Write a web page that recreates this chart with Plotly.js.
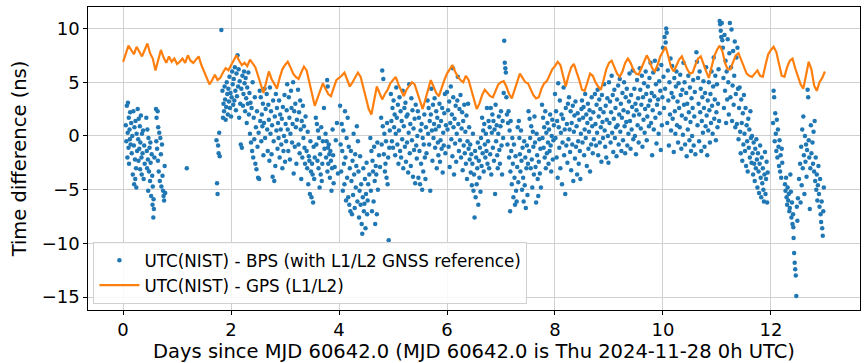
<!DOCTYPE html>
<html><head><meta charset="utf-8">
<script src="https://cdn.plot.ly/plotly-3.0.1.min.js"></script>
<style>html,body{margin:0;padding:0;background:#fff}#chart{width:865px;height:363px}</style>
</head><body><div id="chart"></div>
<script>
const seriesNames = ["UTC(NIST) - BPS (with L1/L2 GNSS reference)", "UTC(NIST) - GPS (L1/L2)"];
const xTitle = "Days since MJD 60642.0 (MJD 60642.0 is Thu 2024-11-28 0h UTC)";
const yTitle = "Time difference (ns)";
const xTicks = [0, 2, 4, 6, 8, 10, 12];
const yTicks = [-15, -10, -5, 0, 5, 10];
const yTickText = ["\u221215", "\u221210", "\u22125", "0", "5", "10"];

// BPS points [day, ns]
const bpsSeg0 = [[0.05,1.0],[0.06,-0.5],[0.07,2.8],[0.08,-2.0],[0.085,0.3],[0.09,3.1],[0.10,-1.1],[0.105,1.7],[0.11,-2.6],[0.12,0.6],[0.125,-0.3],[0.13,2.2],[0.14,-0.8],[0.15,1.2],[0.16,-1.6],[0.17,0.0],
[0.18,-3.6],[0.19,2.3],[0.20,-0.9],[0.205,-4.5],[0.21,0.8],[0.22,-2.2],[0.225,-4.0],[0.23,1.4],[0.24,-3.0],[0.245,-4.8],[0.25,0.2],[0.26,-1.4],
[0.27,2.5],[0.28,-0.3],[0.285,-2.3],[0.29,1.6],[0.30,-1.2],[0.31,0.9],[0.315,-3.1],[0.32,-0.6],[0.33,1.9],[0.34,-2.0],[0.345,-3.6],[0.35,0.2],[0.36,-1.6],[0.37,0.5],[0.38,-4.0],[0.39,-0.9],[0.40,-2.6],
[0.43,1.7],[0.44,-1.4],[0.445,-3.0],[0.45,0.6],[0.46,-2.2],[0.465,-5.1],[0.47,-0.2],[0.48,-3.3],[0.49,-1.1],[0.50,-4.2],[0.505,-0.6],[0.51,-2.5],[0.52,-5.6],[0.53,-1.7],[0.54,-3.7],[0.545,-6.4],[0.55,-4.7],[0.56,-7.6],[0.565,-5.9],[0.57,-6.8],[0.58,-2.0],
[0.61,2.5],[0.615,-0.5],[0.62,1.7],[0.63,-1.2],[0.64,2.3],[0.645,-2.3],[0.65,0.8],[0.66,-3.3],[0.67,0.3],[0.68,-4.2],[0.69,-0.2],[0.70,-1.7],[0.71,-4.7],[0.72,-0.8],[0.73,-3.7],[0.74,-5.1],[0.75,-5.6],[0.76,-6.0],[0.77,-2.8],[0.78,-5.3],
[1.18,-3.0],[1.73,-0.4],[1.74,-4.4],[1.75,-5.4],[1.76,-0.9],[1.77,-1.6],[1.78,0.3],[1.79,-1.9],[1.82,9.85]];

const bpsSeg1 = [[1.84,4.2],[1.85,1.7],[1.86,3.0],[1.87,2.3],[1.88,4.6],[1.89,3.4],[1.90,1.5],[1.91,2.7],[1.92,5.0],[1.93,3.9],[1.94,2.0],[1.95,4.4],[1.96,3.2],[1.97,5.5],[1.98,2.6],[1.99,4.0],[2.00,1.8],[2.01,3.6],[2.02,6.0],[2.03,4.8],[2.04,2.9],[2.05,5.3],[2.06,3.3],[2.07,6.4],[2.08,4.2],[2.09,2.4],[2.10,5.8],[2.11,3.7],[2.12,7.5],[2.13,4.6],[2.14,6.2],[2.15,1.7],[2.16,5.1],[2.17,3.0],[2.18,-0.8],[2.19,4.4],[2.20,-1.1],[2.21,5.6],[2.22,2.8],[2.23,3.9],[2.24,6.0],[2.25,4.9],[2.26,2.3],[2.27,5.4],[2.28,3.5],[2.29,1.2],[2.30,4.5],[2.31,3.0],[2.32,5.9],[2.33,2.0],[2.34,4.0],[2.35,0.2],[2.36,3.1],[2.37,-0.6],[2.38,2.6],[2.39,-1.4],[2.40,5.0],[2.41,-2.0],[2.42,1.7],[2.43,-0.3],[2.44,3.6],[2.45,-2.6],[2.46,0.8],[2.47,-3.1],[2.48,2.3],[2.49,-1.0],[2.50,-3.9],[2.51,0.3],[2.52,-4.0],[2.53,4.2],[2.54,1.4],[2.55,3.6],[2.56,-0.5],[2.57,2.0],[2.58,0.9],[2.59,3.0],[2.60,-1.8],[2.61,1.2],[2.62,4.4],[2.63,-0.2],[2.64,2.5]];

const bpsSeg2 = [[2.66,3.9],[2.67,0.6],[2.68,-1.4],[2.69,2.9],[2.70,1.5],[2.71,-2.3],[2.72,4.5],[2.73,0.2],[2.74,2.3],[2.75,-1.7],[2.76,1.0],[2.77,-3.8],[2.78,3.3],[2.79,-0.5],[2.80,-4.2],[2.81,1.8],[2.82,-2.8],[2.83,3.9],[2.84,0.5],[2.85,2.6],[2.86,-1.2],[2.87,1.2],[2.88,-0.2],[2.89,3.3],[2.90,-2.0],[2.91,2.0],[2.92,0.6],[2.93,-0.8],[2.94,1.6],[2.95,-3.0],[2.96,2.7],[2.97,-1.4],[2.98,0.0],[2.99,3.8],[3.00,-2.4],[3.01,1.1],[3.02,-0.5],[3.03,2.4],[3.04,4.8],[3.05,0.6],[3.06,-1.4],[3.07,3.6],[3.08,1.7],[3.09,-2.2],[3.10,0.2],[3.11,4.2],[3.12,2.6],[3.13,-0.6],[3.14,1.1],[3.15,5.0],[3.16,-3.5],[3.17,2.3],[3.18,-1.0],[3.19,3.0],[3.20,0.8],[3.21,-2.6],[3.22,1.5],[3.24,4.3],[3.25,-0.8],[3.26,2.2],[3.27,-1.6],[3.28,3.3],[3.29,0.6],[3.30,-4.0],[3.31,1.4],[3.32,-2.0],[3.33,2.8],[3.34,-0.2],[3.35,0.9],[3.36,-1.1],[3.37,-2.6],[3.38,1.8]];

const bpsSeg3 = [[3.40,-1.4],[3.41,-3.0],[3.42,0.4],[3.43,-4.5],[3.44,-1.9],[3.45,-2.3],[3.46,-5.4],[3.47,-0.5],[3.48,-3.3],[3.49,-5.7],[3.50,-2.6],[3.51,-3.6],[3.52,-6.2],[3.53,-1.0],[3.54,-4.0],[3.55,-2.0],[3.57,1.7],[3.58,-0.8],[3.59,1.1],[3.60,-2.3],[3.61,0.5],[3.62,-3.0],[3.63,-0.2],[3.64,-4.8],[3.65,-1.7],[3.66,-3.6],[3.67,0.8],[3.68,-4.2],[3.69,-2.6],[3.70,-0.5],[3.72,2.6],[3.73,-1.2],[3.75,0.2],[3.76,-2.0],[3.77,-0.5],[3.78,5.2],[3.785,-3.3],[3.79,4.6],[3.795,-1.1],[3.80,-2.6],[3.81,-0.8],[3.82,-1.7],[3.83,-3.9],[3.84,-1.4],[3.85,-2.3],[3.86,-5.1],[3.87,-3.0],[3.88,0.6],[3.89,-1.8],[3.90,-4.4],[3.92,-2.9],[3.94,-0.4],[3.96,1.2],[3.98,-3.5]];

const bpsSeg4 = [[4.02,2.8],[4.03,-0.8],[4.04,-3.3],[4.05,1.1],[4.06,-1.4],[4.07,-5.1],[4.08,0.5],[4.09,-2.6],[4.10,-4.5],[4.11,2.3],[4.12,-2.0],[4.13,-6.0],[4.14,-0.2],[4.15,-3.9],[4.16,1.7],[4.17,-5.7],[4.18,-1.0],[4.19,-6.4],[4.20,-3.0],[4.21,-7.0],[4.22,-1.4],[4.23,-4.2],[4.24,-7.3],[4.25,-2.3],[4.26,-5.5],[4.27,0.2],[4.28,-3.6],[4.29,-6.7],[4.30,-1.7],[4.31,-4.8],[4.32,-2.8],[4.33,0.9],[4.34,-6.1],[4.35,-0.5],[4.36,-3.3],[4.37,-7.6],[4.38,-5.1],[4.39,-1.9],[4.40,-6.4],[4.41,-4.5],[4.42,-8.2],[4.43,-9.1],[4.44,-5.7],[4.45,-3.0],[4.46,-7.0],[4.47,-6.3],[4.48,-4.0],[4.49,-8.6],[4.50,-5.4],[4.51,-2.5],[4.52,-7.3],[4.53,-6.0],[4.54,-4.5],[4.56,-3.6],[4.58,-0.2],[4.59,-5.1],[4.60,-1.4],[4.61,-7.0],[4.62,-2.3],[4.63,-3.3],[4.64,-6.1],[4.65,-1.0],[4.66,-4.2],[4.67,-8.2],[4.68,-2.8],[4.69,-3.6],[4.70,-7.3],[4.71,-0.6],[4.72,-5.0],[4.74,-1.8],[4.76,-2.9],[4.78,1.7],[4.79,-0.8],[4.80,6.1],[4.81,0.9],[4.82,5.3],[4.83,-1.7],[4.84,0.2],[4.85,-3.3],[4.86,-2.6],[4.87,-0.5],[4.88,-3.9],[4.89,1.2],[4.90,-4.5],[4.91,-2.0],[4.92,-9.7],[4.93,-1.1],[4.94,0.5]];

const bpsSeg5 = [[4.96,3.9],[4.97,1.4],[4.98,-0.5],[4.99,2.6],[5.00,-1.1],[5.01,3.3],[5.02,0.8],[5.03,2.0],[5.04,-1.8],[5.05,0.2],[5.06,4.5],[5.07,1.7],[5.08,-0.8],[5.09,2.9],[5.10,-2.6],[5.11,0.5],[5.12,3.6],[5.13,-1.4],[5.14,2.3],[5.15,-2.0],[5.16,1.4],[5.17,-0.3],[5.18,4.2],[5.19,-3.0],[5.20,0.9],[5.21,2.6],[5.22,-1.0],[5.23,3.1],[5.24,-2.4],[5.25,1.8],[5.26,-0.6],[5.27,2.0],[5.28,-3.4],[5.29,0.3],[5.30,4.8],[5.31,-1.6],[5.32,1.1],[5.33,-2.8],[5.34,3.5],[5.35,-0.4],[5.36,2.4],[5.37,-3.8],[5.38,0.7],[5.39,-1.3],[5.40,1.6],[5.41,-4.4],[5.42,2.9],[5.43,-0.9],[5.44,-2.1],[5.45,0.0],[5.46,2.3],[5.47,-3.9],[5.48,1.7],[5.49,-1.4],[5.50,-4.5],[5.51,0.5],[5.52,-2.6],[5.53,1.1],[5.54,-5.0],[5.55,-0.2],[5.56,-3.3],[5.57,-0.8],[5.58,2.0],[5.59,-2.0],[5.60,-4.0],[5.61,0.8],[5.62,-1.6],[5.64,3.3],[5.65,0.2],[5.66,2.6],[5.67,-0.8],[5.68,1.4],[5.69,-5.1],[5.70,2.0],[5.71,4.4],[5.72,0.5],[5.73,-2.3],[5.74,2.9],[5.75,-0.2],[5.76,1.1],[5.77,3.5],[5.78,-1.1],[5.79,0.6],[5.80,2.3],[5.81,-3.0],[5.82,1.7],[5.83,-0.6],[5.84,-1.8],[5.85,0.9],[5.86,3.0],[5.87,-2.4],[5.88,-0.4],[5.89,1.4],[5.90,-1.2],[5.91,2.6],[5.92,-3.4],[5.93,0.3],[5.94,-0.9],[5.95,2.1],[5.96,3.9],[5.97,-1.6],[5.98,1.0]];

const bpsSeg6 = [[6.00,4.1],[6.01,0.6],[6.02,2.4],[6.03,-1.0],[6.04,3.2],[6.05,-2.9],[6.06,1.2],[6.07,4.6],[6.08,-0.3],[6.09,2.0],[6.10,-1.9],[6.11,6.3],[6.115,3.6],[6.12,0.8],[6.13,-3.6],[6.14,1.6],[6.15,-0.7],[6.16,2.8],[6.17,-2.4],[6.18,0.2],[6.19,3.3],[6.20,5.5],[6.21,1.1],[6.22,-1.4],[6.23,2.5],[6.24,-0.4],[6.25,3.8],[6.26,-2.0],[6.27,0.7],[6.28,2.2],[6.29,-3.2],[6.30,1.4],[6.31,-0.9],[6.32,2.9],[6.33,-1.6],[6.34,0.4],[6.35,-2.6],[6.36,1.9],[6.37,-4.0],[6.38,-0.5],[6.39,3.0],[6.40,-1.2],[6.41,0.8],[6.42,-2.2],[6.43,-0.8],[6.44,-3.4],[6.45,-1.7],[6.46,-4.6],[6.47,-2.6],[6.48,0.2],[6.49,-5.1],[6.50,-3.6],[6.51,-7.6],[6.52,-1.4],[6.53,-5.7],[6.54,-2.0],[6.55,-4.5],[6.56,-3.0],[6.57,-0.6],[6.58,-6.4],[6.59,-2.3],[6.60,-3.9],[6.61,-1.1],[6.62,-5.2],[6.63,-0.2],[6.64,-2.8],[6.65,1.7],[6.66,-1.6],[6.67,0.5],[6.68,-3.3],[6.69,1.1],[6.70,-0.8],[6.71,-2.0],[6.72,0.2],[6.73,-1.4],[6.74,2.6],[6.75,-2.6],[6.76,-0.5],[6.77,1.4],[6.78,-3.0],[6.79,0.8],[6.80,-1.7]];

const bpsSeg7 = [[6.81,2.6],[6.82,-3.6],[6.83,0.3],[6.84,2.0],[6.85,-1.1],[6.86,1.4],[6.87,-2.3],[6.88,0.6],[6.89,-5.4],[6.90,2.9],[6.91,-0.5],[6.92,1.0],[6.93,-1.8],[6.94,-3.0],[6.95,0.2],[6.96,1.8],[6.97,-1.3],[6.98,-2.6],[6.99,0.9],[7.00,2.3],[7.01,-0.9],[7.02,-3.6],[7.03,1.4],[7.04,-0.2],[7.05,4.0],[7.06,8.85],[7.07,6.8],[7.08,6.3],[7.09,5.9],[7.10,3.6],[7.11,2.0],[7.12,-0.8],[7.13,1.2],[7.14,2.3],[7.15,-2.0],[7.16,0.5],[7.17,-7.0],[7.175,-3.3],[7.18,1.4],[7.19,-1.4],[7.20,-4.5],[7.21,-0.2],[7.22,-2.6],[7.23,-5.7],[7.24,-0.8],[7.25,-3.9],[7.26,-6.4],[7.27,-1.9],[7.28,-5.1],[7.29,-6.1],[7.30,-2.9],[7.31,0.8],[7.32,-4.3],[7.33,1.4],[7.34,-0.2],[7.35,-1.7],[7.36,-3.3],[7.37,0.5],[7.38,-2.3],[7.39,-5.0],[7.40,-1.1],[7.41,-3.9],[7.42,-6.1],[7.43,-0.5],[7.44,-4.6],[7.45,-2.0],[7.46,-6.7],[7.47,-3.0],[7.48,-0.9],[7.49,-5.5],[7.50,-2.6],[7.51,2.3],[7.52,-1.4],[7.53,1.6],[7.54,-0.2],[7.55,-3.0],[7.56,0.9],[7.57,-2.2],[7.58,-4.8],[7.59,0.4],[7.60,-1.0],[7.61,-3.6],[7.62,1.8],[7.63,-0.6],[7.64,-2.9],[7.65,-6.2],[7.66,0.2],[7.67,-1.8],[7.68,-4.0],[7.69,-5.6],[7.70,-2.4],[7.71,-0.3],[7.72,-3.5],[7.73,-1.2],[7.74,-4.8],[7.76,2.9],[7.77,-0.2],[7.78,1.7],[7.79,-1.1],[7.80,0.8],[7.81,-2.0],[7.82,2.3],[7.83,-3.0],[7.84,0.3],[7.85,-1.6],[7.86,1.2],[7.87,-0.6],[7.88,-2.6],[7.89,0.6],[7.90,-1.4],[7.91,2.0],[7.92,-0.9],[7.93,-3.3],[7.94,0.0],[7.95,1.5],[7.96,-2.2],[7.97,-0.4],[7.98,1.0]];

const bpsSeg8 = [[8.00,3.9],[8.01,-0.2],[8.02,2.3],[8.03,-2.0],[8.04,1.4],[8.05,-3.9],[8.06,4.9],[8.07,0.8],[8.08,-1.1],[8.09,3.3],[8.10,-3.0],[8.11,0.3],[8.12,2.0],[8.13,-4.5],[8.14,-0.6],[8.15,1.6],[8.16,4.5],[8.17,-1.8],[8.18,0.6],[8.19,-5.4],[8.20,2.6],[8.21,-0.9],[8.22,1.1],[8.23,-2.5],[8.24,3.0],[8.25,-0.3],[8.26,3.6],[8.27,0.6],[8.28,-1.5],[8.29,2.3],[8.30,-3.2],[8.31,1.2],[8.32,-0.8],[8.33,2.8],[8.34,-4.2],[8.35,0.4],[8.36,1.9],[8.37,-2.1],[8.38,3.2],[8.39,-1.0],[8.40,0.9],[8.41,-3.6],[8.42,2.1],[8.43,-0.5],[8.44,-2.6],[8.45,1.5],[8.46,-1.4],[8.47,-4.0],[8.48,0.2],[8.49,2.5],[8.50,3.3],[8.51,-0.6],[8.52,1.7],[8.53,2.7],[8.54,-1.8],[8.55,0.6],[8.56,3.9],[8.57,-0.2],[8.58,2.0],[8.59,-2.8],[8.60,1.2],[8.61,3.0],[8.62,-1.2],[8.63,0.4],[8.64,2.4],[8.65,-3.3],[8.66,1.6],[8.67,-0.8],[8.68,3.6],[8.69,0.9],[8.70,-1.6],[8.71,2.2],[8.72,-0.3],[8.74,3.9],[8.75,1.1],[8.76,-0.9],[8.77,2.9],[8.78,0.3],[8.79,4.3],[8.80,-1.8],[8.81,1.8],[8.82,3.4],[8.83,-0.6],[8.84,2.5],[8.85,0.8],[8.86,-2.4],[8.87,3.8],[8.88,1.3],[8.89,-0.2],[8.90,2.2],[8.91,4.8],[8.92,0.5],[8.93,-1.0],[8.94,2.8],[8.95,-2.0],[8.96,1.5],[8.97,3.5],[8.98,0.0],[8.99,-2.5]];

const bpsSeg9 = [[9.00,5.0],[9.01,1.2],[9.02,3.2],[9.03,-0.6],[9.04,2.2],[9.05,5.6],[9.06,0.3],[9.07,3.8],[9.08,-1.5],[9.09,1.6],[9.10,4.3],[9.11,-0.2],[9.12,2.6],[9.13,0.8],[9.14,-1.9],[9.15,3.4],[9.16,1.0],[9.17,4.7],[9.18,-0.8],[9.19,2.0],[9.20,5.3],[9.21,0.4],[9.22,3.0],[9.23,-1.4],[9.24,1.7],[9.25,4.0],[9.26,-0.4],[9.27,2.4],[9.28,5.0],[9.29,0.9],[9.30,-1.6],[9.31,3.6],[9.32,1.3],[9.33,4.4],[9.34,-0.9],[9.35,2.2],[9.36,0.2],[9.37,3.2],[9.38,5.8],[9.39,1.4],[9.40,-1.2],[9.41,3.8],[9.42,0.6],[9.43,2.7],[9.44,6.1],[9.45,-0.3],[9.46,1.9],[9.47,4.4],[9.48,0.0],[9.49,3.0],[9.50,-1.7],[9.51,2.4],[9.52,5.2],[9.53,1.0],[9.54,3.5],[9.55,-0.6],[9.56,2.0],[9.57,6.3],[9.58,4.3],[9.59,0.7],[9.60,2.9],[9.61,5.6],[9.62,-1.0],[9.63,3.6],[9.64,1.5],[9.65,4.9],[9.66,0.3],[9.67,2.5],[9.68,6.0],[9.69,3.9],[9.70,-0.4],[9.71,1.8],[9.72,4.6],[9.73,2.8],[9.74,0.9],[9.75,5.4],[9.76,3.3],[9.77,6.8],[9.78,1.2],[9.79,4.0],[9.80,-1.8],[9.81,2.4],[9.82,5.9],[9.83,0.6],[9.84,3.7],[9.85,7.0],[9.86,1.7],[9.87,4.8],[9.88,-0.7],[9.89,2.9],[9.90,6.2],[9.91,3.4],[9.92,0.2],[9.93,5.1],[9.94,2.1],[9.95,4.2],[9.96,-1.3],[9.97,6.6],[9.98,1.0],[9.99,3.6]];

const bpsSeg10 = [[10.00,8.2],[10.01,5.5],[10.02,2.6],[10.03,9.2],[10.04,4.4],[10.05,8.7],[10.06,10.0],[10.07,9.6],[10.08,1.2],[10.09,6.1],[10.10,3.3],[10.11,-0.9],[10.12,5.0],[10.13,2.0],[10.14,7.2],[10.15,0.5],[10.16,4.0],[10.17,6.5],[10.18,1.6],[10.19,3.6],[10.20,-1.5],[10.21,5.4],[10.22,2.3],[10.23,0.2],[10.24,4.6],[10.25,6.0],[10.26,1.0],[10.27,3.2],[10.28,-0.6],[10.29,4.9],[10.30,2.6],[10.31,0.8],[10.32,5.7],[10.33,3.8],[10.34,-1.2],[10.35,1.9],[10.36,4.3],[10.37,0.1],[10.38,6.8],[10.39,2.9],[10.40,5.0],[10.41,-0.8],[10.42,1.6],[10.43,4.0],[10.44,-1.9],[10.45,3.0],[10.46,0.6],[10.47,5.6],[10.48,2.2],[10.49,-0.4],[10.50,4.5],[10.51,1.3],[10.52,-1.4],[10.53,3.5],[10.54,0.0],[10.55,2.6],[10.56,5.2],[10.57,-0.9],[10.58,1.8],[10.59,4.1],[10.60,-1.7],[10.62,7.8],[10.63,6.9],[10.64,1.0],[10.65,5.4],[10.66,3.0],[10.67,-0.5],[10.68,6.0],[10.69,2.2],[10.70,4.4],[10.71,-1.4],[10.72,1.4],[10.73,3.6],[10.74,0.3],[10.75,5.1],[10.76,2.6],[10.77,-1.0],[10.78,4.0],[10.79,0.9],[10.80,6.4],[10.81,1.9],[10.82,-1.8],[10.83,3.3],[10.84,0.5],[10.85,5.0],[10.86,2.4],[10.87,-0.6],[10.88,3.9],[10.89,1.2],[10.90,6.0],[10.91,2.8],[10.92,0.2],[10.93,4.6],[10.94,7.3],[10.95,1.6],[10.96,3.4],[10.97,5.6],[10.98,-0.4],[10.99,2.2],[11.00,4.8],[11.01,0.8],[11.02,3.0],[11.03,6.2],[11.04,1.4],[11.05,10.7],[11.06,10.4],[11.07,9.8],[11.08,9.2],[11.09,10.5],[11.10,8.9],[11.11,8.2],[11.12,5.4],[11.13,2.6],[11.14,9.4],[11.15,4.2],[11.16,7.0],[11.17,1.2],[11.18,6.0],[11.19,3.4]];

const bpsSeg11 = [[11.20,9.0],[11.21,5.0],[11.22,2.0],[11.23,7.7],[11.24,10.5],[11.25,3.6],[11.26,6.4],[11.27,9.9],[11.28,1.4],[11.29,4.7],[11.30,7.9],[11.31,2.9],[11.32,5.6],[11.33,8.8],[11.34,0.8],[11.35,3.9],[11.36,7.3],[11.37,1.1],[11.38,8.2],[11.39,4.4],[11.40,-0.3],[11.41,2.6],[11.42,4.5],[11.43,0.4],[11.44,-1.6],[11.45,3.4],[11.46,1.2],[11.47,-2.3],[11.48,2.1],[11.49,-0.8],[11.50,3.8],[11.51,0.2],[11.52,-1.4],[11.53,2.6],[11.54,-2.8],[11.55,1.0],[11.56,-0.5],[11.57,-3.3],[11.58,1.6],[11.59,-1.1],[11.60,0.6],[11.61,-2.0],[11.62,2.3],[11.63,-0.2],[11.64,-2.5],[11.65,0.0],[11.66,-1.6],[11.67,-3.6],[11.68,-0.6],[11.69,-2.6],[11.70,-4.2],[11.71,-1.2],[11.72,-3.0],[11.73,-0.3],[11.74,-2.2],[11.75,-4.8],[11.76,-1.6],[11.77,-3.3],[11.78,-5.3],[11.79,-2.6],[11.80,-0.9],[11.81,-3.9],[11.82,-5.7],[11.83,-2.0],[11.84,-4.4],[11.85,-3.0],[11.86,-5.0],[11.87,-6.1],[11.88,-3.6],[11.89,-1.5],[11.90,-5.4],[11.91,-4.0],[11.92,-2.4],[11.93,-6.2],[11.94,-3.4]];

const bpsSeg12 = [[12.04,1.2],[12.05,4.2],[12.06,3.6],[12.07,-0.5],[12.08,2.1],[12.09,0.2],[12.10,-1.4],[12.11,1.5],[12.12,-2.0],[12.13,0.6],[12.14,-1.0],[12.15,-2.8],[12.16,-0.4],[12.17,-3.3],[12.18,-1.8],[12.19,-3.9],[12.20,-1.2],[12.21,-2.5],[12.26,-4.5],[12.27,-5.1],[12.28,-3.9],[12.29,-5.7],[12.30,-6.4],[12.31,-4.8],[12.32,-6.0],[12.33,-5.4],[12.34,-7.0],[12.35,-6.7],[12.36,-3.6],[12.37,-5.2],[12.38,-7.6],[12.39,-6.2],[12.40,-8.2],[12.41,-7.3],[12.415,-8.5],[12.42,-9.5],[12.43,-10.9],[12.44,-11.8],[12.45,-12.4],[12.46,-13.0],[12.47,-14.9],[12.48,-6.6],[12.49,-7.9],[12.50,-5.8],[12.52,-4.0],[12.54,-2.6],[12.55,-6.2],[12.56,-1.0],[12.57,-4.6],[12.58,0.6],[12.59,-3.0],[12.60,1.8],[12.61,-1.8],[12.62,-5.4],[12.63,0.0],[12.64,-2.4],[12.65,-0.8],[12.66,-3.8],[12.67,-1.3],[12.68,4.3],[12.69,3.6],[12.70,-0.4],[12.71,-2.0],[12.72,-6.8],[12.73,-3.0],[12.74,1.0],[12.75,-1.6],[12.77,-0.6],[12.78,-2.6],[12.79,0.4],[12.80,-3.3],[12.81,1.4],[12.82,-4.2],[12.83,-2.0],[12.84,-5.0],[12.85,-3.6],[12.86,-6.0],[12.87,-4.6],[12.88,-2.8],[12.89,-5.4],[12.90,-6.6],[12.91,-4.0],[12.92,-7.3],[12.93,-8.0],[12.94,-6.1],[12.95,-8.6],[12.96,-9.3],[12.97,-7.0],[12.98,-4.8]];

// GPS line [day, ns]
const gpsA = [[0.00,6.9],[0.05,7.6],[0.10,8.4],[0.15,8.0],[0.20,7.6],[0.25,8.3],[0.30,7.8],[0.35,7.4],[0.40,8.0],[0.45,8.6],[0.50,7.7],[0.55,7.2],[0.60,6.1],[0.65,7.0],[0.70,8.0],[0.75,7.3],[0.80,6.8],[0.85,7.4],[0.90,6.9],[0.95,7.2],
[1.00,6.7],[1.05,6.9],[1.10,7.2],[1.15,6.8],[1.20,7.5],[1.25,7.0],[1.30,6.8],[1.35,7.1],[1.40,7.4],[1.45,6.6],[1.50,6.0],[1.55,5.3],[1.60,4.8],[1.65,5.2],[1.70,5.7],[1.75,5.2],[1.80,5.4],[1.85,5.9],[1.90,6.3],[1.95,6.1],
[2.00,6.6],[2.05,7.0],[2.10,7.5],[2.15,7.0],[2.20,6.6],[2.25,6.8],[2.30,6.5],[2.35,7.1],[2.40,6.8],[2.45,6.4],[2.50,5.6],[2.55,4.8],[2.60,4.0],[2.65,5.0],[2.70,6.0],[2.75,5.3],[2.80,4.8],[2.85,4.4],[2.90,5.4],[2.95,6.2],
[3.00,6.6],[3.05,6.9],[3.10,6.4],[3.15,5.8],[3.20,5.5],[3.25,5.3],[3.30,5.9],[3.35,6.45],[3.40,6.1],[3.45,5.0],[3.50,3.8],[3.55,2.8],[3.60,3.5],[3.65,4.3],[3.70,4.9],[3.75,4.4],[3.80,3.9],[3.85,3.7],[3.90,4.5],[3.95,5.2],
[4.00,5.4],[4.05,5.6],[4.10,5.9],[4.15,5.3],[4.20,4.6],[4.25,5.0],[4.30,5.4],[4.35,5.9],[4.40,5.5],[4.45,4.4],[4.50,3.4],[4.55,2.5],[4.60,2.0],[4.65,3.2],[4.70,4.6],[4.75,4.0],[4.80,3.4],[4.85,3.9],[4.90,4.3],[4.95,4.9]];
const gpsB = [[5.00,5.2],[5.05,5.5],[5.10,4.8],[5.15,4.2],[5.20,3.7],[5.25,4.3],[5.30,4.7],[5.35,5.0],[5.40,4.8],[5.45,4.0],[5.50,3.2],[5.55,2.5],[5.60,3.4],[5.65,4.4],[5.70,5.2],[5.75,4.6],[5.80,4.0],[5.85,3.7],[5.90,4.5],[5.95,5.2],
[6.00,5.8],[6.05,6.2],[6.10,6.6],[6.15,6.0],[6.20,5.5],[6.25,5.2],[6.30,5.0],[6.35,5.6],[6.40,5.2],[6.45,4.3],[6.50,3.5],[6.55,2.5],[6.60,3.0],[6.65,3.8],[6.70,4.3],[6.75,4.0],[6.80,3.7],[6.85,3.6],[6.90,4.2],[6.95,4.8],
[7.00,5.0],[7.05,5.1],[7.10,4.6],[7.15,3.9],[7.20,3.5],[7.25,4.3],[7.30,5.2],[7.35,5.8],[7.40,5.4],[7.45,5.0],[7.50,4.9],[7.55,4.3],[7.60,3.8],[7.65,3.5],[7.70,3.6],[7.75,4.4],[7.80,4.9],[7.85,5.1],[7.90,5.6],[7.95,6.2],
[8.00,6.5],[8.05,6.9],[8.10,6.6],[8.15,5.5],[8.20,4.6],[8.25,5.6],[8.30,6.4],[8.35,6.7],[8.40,6.0],[8.45,5.2],[8.50,4.3],[8.55,4.2],[8.60,5.0],[8.65,5.8],[8.70,5.6],[8.75,5.0],[8.80,4.6],[8.85,4.3],[8.90,5.2],[8.95,6.2],
[9.00,6.8],[9.05,7.0],[9.10,6.4],[9.15,5.8],[9.20,5.5],[9.25,6.0],[9.30,6.8],[9.35,7.2],[9.40,6.8],[9.45,6.2],[9.50,5.8],[9.55,5.7],[9.60,6.3],[9.65,7.0],[9.70,7.5],[9.75,7.0],[9.80,6.3],[9.85,6.0],[9.90,6.6],[9.95,7.4]];
const gpsC = [[10.00,7.8],[10.05,8.3],[10.10,7.4],[10.15,6.4],[10.20,6.0],[10.25,6.6],[10.30,7.1],[10.35,7.4],[10.40,6.8],[10.45,6.2],[10.50,5.8],[10.55,5.9],[10.60,6.6],[10.65,7.2],[10.70,7.4],[10.75,6.6],[10.80,6.0],[10.85,5.4],[10.90,6.4],[10.95,7.4],
[11.00,8.0],[11.05,8.4],[11.10,7.9],[11.15,6.8],[11.20,6.2],[11.25,6.2],[11.30,6.9],[11.35,7.5],[11.40,7.7],[11.45,7.0],[11.50,6.3],[11.55,5.8],[11.60,5.6],[11.65,5.5],[11.70,5.8],[11.75,6.1],[11.80,5.6],[11.85,5.5],[11.90,6.6],[11.95,7.6],
[12.00,8.0],[12.05,8.3],[12.10,7.8],[12.15,6.6],[12.20,5.6],[12.25,5.5],[12.30,6.4],[12.35,7.0],[12.40,7.2],[12.45,6.3],[12.50,5.6],[12.55,4.8],[12.60,4.4],[12.65,5.8],[12.70,6.9],[12.75,6.2],[12.80,4.7],[12.85,4.2],[12.90,5.0],[12.95,5.4],
[13.00,6.0]];

const bps = [].concat(bpsSeg0, bpsSeg1, bpsSeg2, bpsSeg3, bpsSeg4, bpsSeg5, bpsSeg6, bpsSeg7, bpsSeg8, bpsSeg9, bpsSeg10, bpsSeg11, bpsSeg12);
const gps = [].concat(gpsA, gpsB, gpsC);

const traces = [
  {type: 'scatter', mode: 'markers', name: seriesNames[0],
   x: bps.map(p => p[0]), y: bps.map(p => p[1]),
   marker: {color: '#1f77b4', size: 4.5}},
  {type: 'scatter', mode: 'lines', name: seriesNames[1],
   x: gps.map(p => p[0]), y: gps.map(p => p[1]),
   line: {color: '#ff7f0e', width: 2.2}}
];

const axisCommon = {
  showgrid: true, gridcolor: '#d0d0d0', gridwidth: 1, zeroline: false,
  showline: true, mirror: true, linecolor: '#000', linewidth: 1.2,
  ticks: 'outside', ticklen: 3.5, tickwidth: 1, tickcolor: '#000',
  tickfont: {size: 18, color: '#000'}
};

const layout = {
  width: 865, height: 363,
  margin: {l: 88, r: 5, t: 7, b: 53},
  paper_bgcolor: '#fff', plot_bgcolor: '#fff',
  font: {family: 'DejaVu Sans, sans-serif', size: 18, color: '#000'},
  showlegend: true,
  legend: {x: 0.007, y: 0.02, xanchor: 'left', yanchor: 'bottom',
    bgcolor: 'rgba(255,255,255,0.85)', bordercolor: '#d0d0d0', borderwidth: 1,
    font: {size: 16.8, color: '#000'}, itemwidth: 40},
  xaxis: Object.assign({}, axisCommon, {
    range: [-0.65, 13.65], tickvals: xTicks, ticktext: xTicks.map(String),
    title: {text: xTitle, font: {size: 19.5, color: '#000'}, standoff: 5}
  }),
  yaxis: Object.assign({}, axisCommon, {
    range: [-16.2, 12.0], tickvals: yTicks, ticktext: yTickText,
    title: {text: yTitle, font: {size: 19.5, color: '#000'}, standoff: 9}
  })
};

Plotly.newPlot('chart', traces, layout, {displayModeBar: false, staticPlot: true});
</script>
</body></html>
